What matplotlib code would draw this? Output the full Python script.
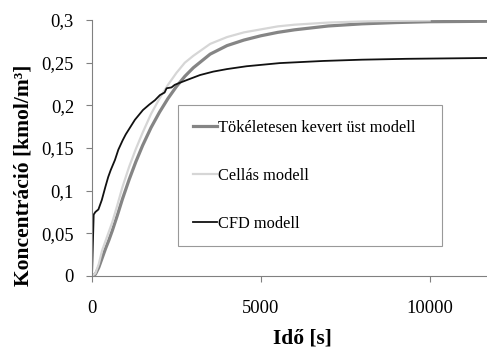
import matplotlib
matplotlib.use("Agg")
import matplotlib.pyplot as plt
from matplotlib.ticker import FixedLocator, FixedFormatter

# Idő [s] and concentration values
t_tok = [0, 100, 200, 300, 400, 500, 600, 750, 900, 1100, 1300, 1500, 1750,
         2000, 2250, 2500, 2750, 3000, 3500, 4000, 4500, 5000, 5500, 6000,
         7000, 8000, 9000, 10000, 11700]
c_tok = [0, 0.002, 0.010, 0.021, 0.032, 0.042, 0.053, 0.071, 0.090, 0.113,
         0.134, 0.153, 0.174, 0.192, 0.208, 0.222, 0.234, 0.244, 0.260,
         0.270, 0.2765, 0.2815, 0.2855, 0.2885, 0.293, 0.2955, 0.297,
         0.298, 0.2985]

t_cell = [0, 100, 200, 300, 400, 500, 600, 750, 900, 1100, 1300, 1500, 1750,
          2000, 2250, 2500, 2750, 3000, 3500, 4000, 4500, 5000, 5500, 6000,
          7000, 8000, 9000, 10000]
c_cell = [0, 0.003, 0.014, 0.030, 0.041, 0.052, 0.063, 0.083, 0.104, 0.128,
          0.149, 0.168, 0.190, 0.208, 0.224, 0.238, 0.250, 0.258, 0.272,
          0.280, 0.2855, 0.289, 0.2925, 0.2945, 0.297, 0.2983, 0.299, 0.2995]

t_cfd = [0, 20, 50, 100, 190, 290, 400, 480, 553, 680, 780, 908, 1000, 1270,
         1509, 1700, 1864, 2012, 2150, 2210, 2355, 2450, 2604, 2900, 3200,
         3589, 4000, 4577, 5562, 6844, 8000, 9310, 10500, 11700]
c_cfd = [0, 0.030, 0.072, 0.075, 0.078, 0.089, 0.105, 0.116, 0.124, 0.136,
         0.148, 0.159, 0.166, 0.183, 0.1945, 0.201, 0.206, 0.212, 0.215,
         0.220, 0.221, 0.224, 0.2265, 0.231, 0.2355, 0.2395, 0.2425, 0.2458,
         0.2495, 0.252, 0.2535, 0.2545, 0.255, 0.2555]

labels = ["Tökéletesen kevert üst modell", "Cellás modell", "CFD modell"]
y_ticks = [0, 0.05, 0.1, 0.15, 0.2, 0.25, 0.3]
y_tick_labels = ["0", "0,05", "0,1", "0,15", "0,2", "0,25", "0,3"]
x_ticks = [0, 5000, 10000]
x_tick_labels = ["0", "5000", "10000"]

plt.rcParams["font.family"] = ["Liberation Serif", "DejaVu Serif"]

fig = plt.figure(figsize=(4.87, 3.49), dpi=100)
ax = fig.add_axes([92 / 487, 1 - 276 / 349, 1 - 92 / 487, 256 / 349])

ax.plot(t_tok, c_tok, color="#858585", lw=2.3, label=labels[0])
ax.plot(t_cell, c_cell, color="#d6d6d6", lw=1.6, label=labels[1])
ax.plot(t_cfd, c_cfd, color="#111111", lw=1.3, label=labels[2])

ax.set_xlim(0, 11700)
ax.set_ylim(0, 0.3)
ax.yaxis.set_major_locator(FixedLocator(y_ticks))
ax.yaxis.set_major_formatter(FixedFormatter(y_tick_labels))
ax.xaxis.set_major_locator(FixedLocator(x_ticks))
ax.xaxis.set_major_formatter(FixedFormatter(x_tick_labels))

for side in ["top", "right"]:
    ax.spines[side].set_visible(False)
for side in ["left", "bottom"]:
    ax.spines[side].set_color("#808080")
    ax.spines[side].set_linewidth(0.8)
ax.tick_params(axis="both", colors="#808080", length=4, width=0.8,
               labelsize=13.3, labelcolor="black")
ax.tick_params(axis="y", pad=9)
ax.tick_params(axis="x", pad=13)

fig.text(24 / 487, 1 - 175 / 349, "Koncentráció [kmol/m³]", rotation=90,
         ha="center", va="center", fontsize=15.5, fontweight="bold")
fig.text(302 / 487, 1 - 339 / 349, "Idő [s]", ha="center", va="center",
         fontsize=15.5, fontweight="bold")

leg = ax.legend(loc="upper left",
                bbox_to_anchor=(178 / 487, 1 - 105 / 349, 264 / 487, 0),
                bbox_transform=fig.transFigure, mode="expand",
                fontsize=11.8, frameon=True, fancybox=False,
                borderaxespad=0, borderpad=0.9, labelspacing=1.95,
                handlelength=1.5, handletextpad=0.05)
leg.get_frame().set_edgecolor("#808080")
leg.get_frame().set_linewidth(0.8)

fig.savefig("out.png", dpi=100)
